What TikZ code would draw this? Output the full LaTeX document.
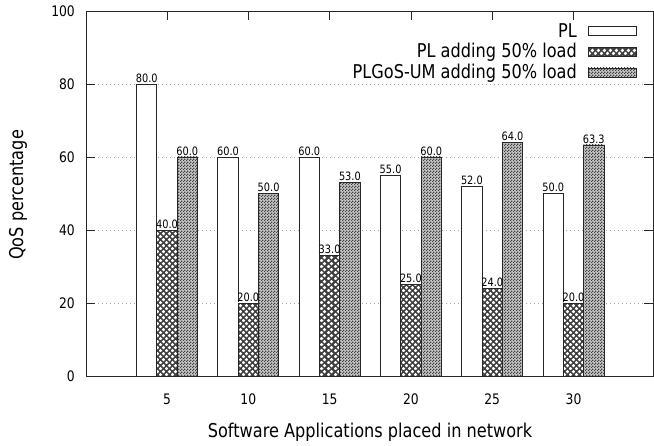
\documentclass[tikz,border=0pt]{standalone}
\usepackage{fontspec}
\setmainfont{DejaVu Sans}[FakeStretch=0.85]
\usetikzlibrary{patterns,patterns.meta}
\tikzdeclarepattern{
  name=holes,
  bounding box={(0pt,0pt) and (6.4pt,6.4pt)},
  tile size={(6.4pt,6.4pt)},
  code={
    \fill (1.6pt,1.6pt) circle (1.9pt);
    \fill (4.8pt,4.8pt) circle (1.9pt);
  }
}
\tikzdeclarepattern{
  name=finecheck,
  bounding box={(0pt,0pt) and (3pt,3pt)},
  tile size={(3pt,3pt)},
  code={
    \fill (0pt,0pt) rectangle (1.5pt,1.5pt);
    \fill (1.5pt,1.5pt) rectangle (3pt,3pt);
  }
}
\tikzset{
  frame/.style={draw=black!85, line width=0.9pt},
  gridline/.style={draw=black!35, line width=0.6pt, dash pattern=on 1pt off 3pt},
  tickmark/.style={draw=black!85, line width=0.8pt},
  barline/.style={draw=black!85, line width=0.8pt},
  ticklabel/.style={font=\fontsize{14.5}{16}\selectfont, inner sep=0pt},
  vallabel/.style={font=\fontsize{11.5}{13}\selectfont, inner sep=0pt, anchor=south},
  axislabel/.style={font=\fontsize{19}{22}\selectfont, inner sep=0pt},
  legendlabel/.style={font=\fontsize{19}{22}\selectfont, inner sep=0pt, anchor=east},
  crossfill/.style={fill=black!75},
  grayfill/.style={fill=black!22},
}
\begin{document}
\begin{tikzpicture}[x=1pt,y=1pt]
\useasboundingbox (0,0) rectangle (654,446);
% plot area: left 86, right 653, bottom Y=70, top Y=435
\def\yb{70}
\def\ys{3.65}
% grid
\foreach \v in {20,40,60,80}{
  \draw[gridline] (86,\yb+\v*\ys) -- (653,\yb+\v*\ys);
}
% y ticks and labels
\foreach \v in {0,20,40,60,80,100}{
  \draw[tickmark] (86,\yb+\v*\ys) -- (95,\yb+\v*\ys);
  \draw[tickmark] (644,\yb+\v*\ys) -- (653,\yb+\v*\ys);
  \node[ticklabel, anchor=east] (yt\v) at (75,\yb+\v*\ys) {\v};
}
% top ticks
\foreach \i in {0,...,5}{
  \pgfmathsetmacro\cx{167+81.3*\i}
  \draw[tickmark] (\cx,435) -- (\cx,426);
  \draw[tickmark] (\cx,\yb) -- (\cx,\yb+9);
}
% bars
\foreach \i/\a/\b/\c/\la/\lb/\lc/\xl in {
  0/80/40/60/80.0/40.0/60.0/5,
  1/60/20/50/60.0/20.0/50.0/10,
  2/60/33/53/60.0/33.0/53.0/15,
  3/55/25/60/55.0/25.0/60.0/20,
  4/52/24/64/52.0/24.0/64.0/25,
  5/50/20/63.3/50.0/20.0/63.3/30}{
  \pgfmathsetmacro\cx{167+81.3*\i}
  % white bar
  \fill[white] (\cx-30.5,\yb) rectangle (\cx-10.2,\yb+\a*\ys);
  \draw[barline] (\cx-30.5,\yb) rectangle (\cx-10.2,\yb+\a*\ys);
  % cross bar
  \path[crossfill] (\cx-10.2,\yb) rectangle (\cx+10.2,\yb+\b*\ys);
  \fill[pattern=holes, pattern color=white] (\cx-10.2,\yb) rectangle (\cx+10.2,\yb+\b*\ys);
  \draw[barline] (\cx-10.2,\yb) rectangle (\cx+10.2,\yb+\b*\ys);
  % gray bar
  \path[grayfill] (\cx+10.2,\yb) rectangle (\cx+30.5,\yb+\c*\ys);
  \fill[pattern=finecheck, pattern color=black!75] (\cx+10.2,\yb) rectangle (\cx+30.5,\yb+\c*\ys);
  \draw[barline] (\cx+10.2,\yb) rectangle (\cx+30.5,\yb+\c*\ys);
  % value labels
  \node[vallabel] (va\i) at (\cx-20.3,\yb+\a*\ys+1.5) {\la};
  \node[vallabel] (vb\i) at (\cx,\yb+\b*\ys+1.5) {\lb};
  \node[vallabel] (vc\i) at (\cx+20.3,\yb+\c*\ys+1.5) {\lc};
  % x tick label
  \node[ticklabel] (xt\i) at (\cx,47) {\xl};
}
% frame
\draw[frame] (86,\yb) rectangle (653,435);
% axis labels
\node[axislabel] (xlabel) at (370,14) {Software Applications placed in network};
\node[axislabel, rotate=90] (ylabel) at (18,251) {QoS percentage};
% legend
\node[legendlabel] (l1) at (577,415) {PL};
\draw[barline, fill=white] (588,411) rectangle (636,420);
\node[legendlabel] (l2) at (577,394) {PL adding 50\% load};
\path[crossfill] (588,389.5) rectangle (636,398.5);
\fill[pattern=holes, pattern color=white] (588,389.5) rectangle (636,398.5);
\draw[barline] (588,389.5) rectangle (636,398.5);
\node[legendlabel] (l3) at (577,373) {PLGoS-UM adding 50\% load};
\path[grayfill] (588,369) rectangle (636,378);
\fill[pattern=finecheck, pattern color=black!75] (588,369) rectangle (636,378);
\draw[barline] (588,369) rectangle (636,378);
\end{tikzpicture}
\end{document}
